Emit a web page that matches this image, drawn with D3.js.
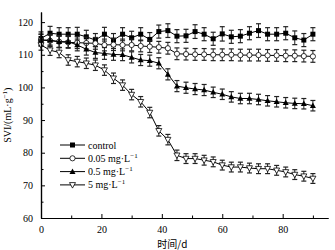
<!DOCTYPE html>
<html>
<head>
<meta charset="utf-8">
<script src="https://cdn.jsdelivr.net/npm/d3@7"></script>
<style>
  body { margin: 0; background: #fff; }
  svg text { font-family: "Liberation Serif", "DejaVu Serif", serif; fill: #000; }
</style>
</head>
<body>
<div id="chart"></div>
<script>
// chart size, matches the 335x250 window
const svgWidth = 335;
const svgHeight = 250;
const margin = { top: 12, right: 7, bottom: 32, left: 41 };
const width = svgWidth - margin.left - margin.right;
const height = svgHeight - margin.top - margin.bottom;

// data
const days = [0, 3, 6, 9, 12, 15, 18, 21, 24, 27, 30, 33, 36, 39, 42, 45, 48, 51, 54, 57, 60, 63, 66, 69, 72, 75, 78, 81, 84, 87, 90];
const control = [115.0, 116.6, 116.3, 116.3, 116.3, 115.5, 114.5, 116.3, 114.5, 116.3, 115.2, 116.3, 114.7, 117.1, 117.4, 115.7, 115.8, 117.1, 116.3, 114.9, 116.4, 115.5, 115.7, 116.6, 117.4, 116.3, 116.3, 116.6, 115.2, 114.5, 116.3];
const controlErr = [2.0, 2.1, 2.0, 2.0, 2.1, 2.0, 2.0, 2.1, 2.0, 2.0, 2.0, 2.0, 2.1, 2.0, 2.1, 2.0, 2.0, 2.1, 2.0, 2.0, 2.2, 2.0, 2.0, 2.0, 2.1, 2.0, 2.0, 2.0, 2.1, 2.0, 2.0];
const low = [114.5, 114.3, 114.0, 113.8, 113.7, 113.6, 113.5, 113.0, 113.1, 113.0, 113.0, 112.7, 112.5, 112.3, 112.0, 110.3, 110.2, 110.1, 110.1, 110.0, 110.0, 110.0, 109.9, 109.9, 109.9, 109.8, 109.8, 109.7, 109.7, 109.6, 109.5];
const lowErr = [1.8, 1.8, 1.8, 1.8, 1.8, 1.8, 1.8, 1.8, 1.8, 1.8, 1.8, 1.8, 1.8, 1.8, 1.8, 1.8, 1.8, 1.8, 1.8, 1.8, 1.8, 1.8, 1.8, 1.8, 1.8, 1.8, 1.8, 1.8, 1.8, 1.8, 1.8];
const mid = [114.5, 114.5, 114.0, 114.0, 113.0, 111.7, 110.7, 110.4, 110.1, 110.0, 109.2, 108.4, 108.2, 107.4, 104.0, 100.4, 99.9, 99.5, 99.2, 98.5, 97.9, 97.1, 96.6, 96.6, 96.3, 95.9, 95.6, 95.3, 95.1, 95.0, 94.4];
const midErr = [1.8, 1.8, 1.8, 1.8, 1.8, 1.8, 1.8, 1.8, 1.8, 1.8, 1.7, 1.7, 1.7, 1.7, 1.7, 1.7, 1.7, 1.7, 1.7, 1.6, 1.6, 1.6, 1.6, 1.6, 1.6, 1.6, 1.6, 1.6, 1.6, 1.6, 1.6];
const high = [113.0, 111.4, 110.7, 108.4, 107.9, 107.4, 106.8, 105.3, 102.8, 100.7, 97.8, 95.6, 92.3, 86.7, 84.0, 79.2, 78.2, 78.2, 77.7, 77.2, 76.2, 75.6, 75.6, 75.3, 75.1, 75.1, 74.6, 74.1, 73.3, 72.8, 72.1];
const highErr = [1.6, 1.6, 1.6, 1.6, 1.6, 1.6, 1.6, 1.6, 1.6, 1.6, 1.6, 1.6, 1.6, 1.6, 1.6, 1.6, 1.5, 1.5, 1.5, 1.5, 1.5, 1.5, 1.5, 1.5, 1.5, 1.5, 1.5, 1.5, 1.5, 1.5, 1.5];

const seriesNames = ["control", "0.05 mg·L", "0.5 mg·L", "5 mg·L"];
const seriesSup = ["", "−1", "−1", "−1"];
const seriesShapes = ["square", "circle", "triangle", "invtriangle"];

const xTicks = [0, 20, 40, 60, 80];
const xMinor = [10, 30, 50, 70, 90];
const yTicks = [60, 70, 80, 90, 100, 110, 120];
const yMinor = [65, 75, 85, 95, 105, 115];

const allSeries = [
    { values: control, err: controlErr },
    { values: low, err: lowErr },
    { values: mid, err: midErr },
    { values: high, err: highErr }
];

const svg = d3.select("#chart")
    .append("svg")
    .attr("width", svgWidth)
    .attr("height", svgHeight)
    .append("g")
    .attr("transform", `translate(${margin.left},${margin.top})`);

const x = d3.scaleLinear().domain([0, 95]).range([0, width]);
const y = d3.scaleLinear().domain([60, 123.1]).range([height, 0]);

// draw a marker of a given shape at (0,0)
function drawMarker(g, shape) {
    if (shape === "square") {
        g.append("rect").attr("x", -2.5).attr("y", -2.5).attr("width", 5).attr("height", 5)
            .attr("fill", "#000");
    } else if (shape === "circle") {
        g.append("circle").attr("r", 2.6).attr("fill", "#fff").attr("stroke", "#000").attr("stroke-width", 0.8);
    } else if (shape === "triangle") {
        g.append("path").attr("d", "M0,-3.2L3,2.3L-3,2.3Z").attr("fill", "#000");
    } else {
        g.append("path").attr("d", "M0,3.2L3,-2.3L-3,-2.3Z").attr("fill", "#fff")
            .attr("stroke", "#000").attr("stroke-width", 0.8);
    }
}

const line = d3.line()
    .x((d, i) => x(days[i]))
    .y(d => y(d));

allSeries.forEach(function (s, k) {
    const g = svg.append("g");
    // error bars
    const eb = g.selectAll(".eb").data(s.values).enter().append("g");
    eb.append("line")
        .attr("x1", (d, i) => x(days[i])).attr("x2", (d, i) => x(days[i]))
        .attr("y1", (d, i) => y(d + s.err[i])).attr("y2", (d, i) => y(d - s.err[i]))
        .attr("stroke", "#222").attr("stroke-width", 1);
    [1, -1].forEach(function (sign) {
        eb.append("line")
            .attr("x1", (d, i) => x(days[i]) - 2.5).attr("x2", (d, i) => x(days[i]) + 2.5)
            .attr("y1", (d, i) => y(d + sign * s.err[i])).attr("y2", (d, i) => y(d + sign * s.err[i]))
            .attr("stroke", "#222").attr("stroke-width", 1.2);
    });
    g.append("path")
        .datum(s.values)
        .attr("d", line)
        .attr("fill", "none")
        .attr("stroke", "#000")
        .attr("stroke-width", 1);
    g.selectAll(".pt").data(s.values).enter().append("g")
        .attr("transform", (d, i) => `translate(${x(days[i])},${y(d)})`)
        .each(function () { drawMarker(d3.select(this), seriesShapes[k]); });
});

// axes: only left and bottom, ticks pointing inward
svg.append("g")
    .attr("transform", `translate(0,${height})`)
    .call(d3.axisBottom(x).tickValues(xTicks).tickSize(-4).tickPadding(8).tickSizeOuter(0))
    .call(g => g.selectAll("text").attr("font-size", "10px").attr("font-family", "Liberation Serif"));
svg.append("g")
    .attr("transform", `translate(0,${height})`)
    .call(d3.axisBottom(x).tickValues(xMinor).tickSize(-2.5).tickFormat("").tickSizeOuter(0));

svg.append("g")
    .call(d3.axisLeft(y).tickValues(yTicks).tickSize(-4).tickPadding(8).tickSizeOuter(0))
    .call(g => g.selectAll("text").attr("font-size", "10px").attr("font-family", "Liberation Serif"));
svg.append("g")
    .call(d3.axisLeft(y).tickValues(yMinor).tickSize(-2.5).tickFormat("").tickSizeOuter(0));

svg.selectAll(".domain").attr("stroke", "#000").attr("stroke-width", 1.2);

// legend
const legend = svg.append("g").attr("transform", "translate(19,133)");
seriesNames.forEach(function (name, k) {
    const row = legend.append("g").attr("transform", `translate(0,${k * 13.3})`);
    row.append("line").attr("x1", 0).attr("x2", 25).attr("y1", 0).attr("y2", 0)
        .attr("stroke", "#000").attr("stroke-width", 1);
    const m = row.append("g").attr("transform", "translate(12.5,0)");
    drawMarker(m, seriesShapes[k]);
    const t = row.append("text").attr("x", 28).attr("y", 3.5).attr("font-size", "10px").text(name);
    if (seriesSup[k]) {
        t.append("tspan").attr("dy", -4).attr("font-size", "7px").text(seriesSup[k]);
    }
});

// axis titles
const yTitle = svg.append("text")
    .attr("transform", `translate(${-30},${y(91.5)}) rotate(-90)`)
    .attr("text-anchor", "middle")
    .attr("font-size", "10px")
    .text("SVI/(mL·g");
yTitle.append("tspan").attr("dy", -4).attr("font-size", "7px").text("−1");
yTitle.append("tspan").attr("dy", 4).text(")");

svg.append("text")
    .attr("x", x(43.5))
    .attr("y", height + 30)
    .attr("text-anchor", "middle")
    .attr("font-size", "10px")
    .style("font-family", "'Noto Sans CJK SC', sans-serif")
    .text("时间/d");
</script>
</body>
</html>
